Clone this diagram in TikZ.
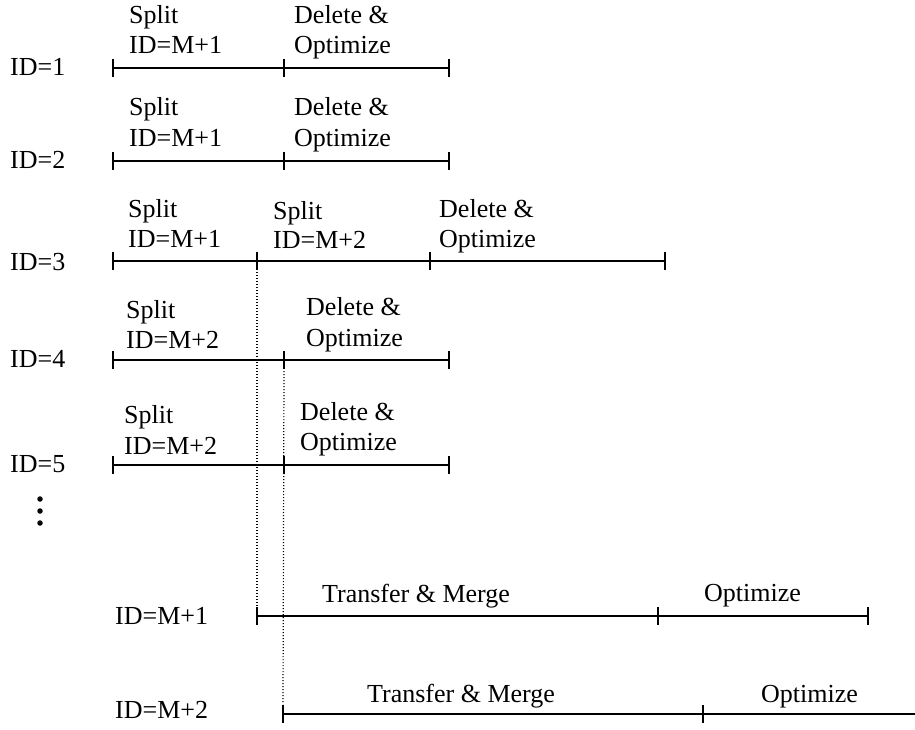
\documentclass[tikz,border=0pt]{standalone}
\usepackage{fontspec}
\setmainfont{Liberation Serif}
\begin{document}
\begin{tikzpicture}[x=1pt,y=-1pt,
  lbl/.style={anchor=base west, inner sep=0pt, font=\fontsize{26}{30}\selectfont},
  bar/.style={line width=2.2pt},
  tickmark/.style={line width=1.7pt},
  guide/.style={line width=1.2pt, dash pattern=on 1.2pt off 1.8pt},
  dotmark/.style={circle, fill=black, inner sep=0pt, minimum size=5.5pt}
]
\useasboundingbox (0,0) rectangle (915,729);

% a vertical tick mark on a time line
\newcommand\barmark[3]{%
  \coordinate (#1) at (#2,#3);
  \draw[tickmark] ([yshift=9pt]#1) -- ([yshift=-9pt]#1);}

% ---- ID=1 ----
\node[lbl] (id1) at (10,75) {ID=1};
\barmark{r1a}{113}{68}\barmark{r1b}{284}{68}\barmark{r1c}{449}{68}
\draw[bar] (r1a) -- (r1b) -- (r1c);
\node[lbl] (r1s) at (129,23) {Split};
\node[lbl] (r1i) at (129,53) {ID=M+1};
\node[lbl] (r1d) at (294,23) {Delete \&};
\node[lbl] (r1o) at (294,53) {Optimize};

% ---- ID=2 ----
\node[lbl] (id2) at (10,168) {ID=2};
\barmark{r2a}{113}{161}\barmark{r2b}{284}{161}\barmark{r2c}{449}{161}
\draw[bar] (r2a) -- (r2b) -- (r2c);
\node[lbl] (r2s) at (129,115) {Split};
\node[lbl] (r2i) at (129,146) {ID=M+1};
\node[lbl] (r2d) at (294,115) {Delete \&};
\node[lbl] (r2o) at (294,146) {Optimize};

% ---- ID=3 ----
\node[lbl] (id3) at (10,270) {ID=3};
\barmark{r3a}{113}{261}\barmark{r3b}{257}{261}\barmark{r3c}{430}{261}\barmark{r3d}{665}{261}
\draw[bar] (r3a) -- (r3b) -- (r3c) -- (r3d);
\node[lbl] (r3s) at (128,217) {Split};
\node[lbl] (r3i) at (128,247) {ID=M+1};
\node[lbl] (r3t) at (273,219) {Split};
\node[lbl] (r3j) at (273,248) {ID=M+2};
\node[lbl] (r3d) at (439,217) {Delete \&};
\node[lbl] (r3o) at (439,247) {Optimize};

% ---- ID=4 ----
\node[lbl] (id4) at (10,367) {ID=4};
\barmark{r4a}{113}{360}\barmark{r4b}{284}{360}\barmark{r4c}{449}{360}
\draw[bar] (r4a) -- (r4b) -- (r4c);
\node[lbl] (r4s) at (126,318) {Split};
\node[lbl] (r4j) at (126,348) {ID=M+2};
\node[lbl] (r4d) at (306,315) {Delete \&};
\node[lbl] (r4o) at (306,346) {Optimize};

% ---- ID=5 ----
\node[lbl] (id5) at (10,472) {ID=5};
\barmark{r5a}{113}{465}\barmark{r5b}{284}{465}\barmark{r5c}{449}{465}
\draw[bar] (r5a) -- (r5b) -- (r5c);
\node[lbl] (r5s) at (124,423) {Split};
\node[lbl] (r5j) at (124,454) {ID=M+2};
\node[lbl] (r5d) at (300,420) {Delete \&};
\node[lbl] (r5o) at (300,450) {Optimize};

% ---- vertical ellipsis ----
\node[dotmark] (e1) at (40,499) {};
\node[dotmark] (e2) at (40,511) {};
\node[dotmark] (e3) at (40,523) {};

% ---- ID=M+1 ----
\node[lbl] (idm1) at (115,624) {ID=M+1};
\barmark{m1a}{257}{616}\barmark{m1b}{658}{616}\barmark{m1c}{868}{616}
\draw[bar] (m1a) -- (m1b) -- (m1c);
\node[lbl] (m1t) at (322,602) {Transfer \& Merge};
\node[lbl] (m1o) at (704,601) {Optimize};

% ---- ID=M+2 ----
\node[lbl] (idm2) at (115,718) {ID=M+2};
\barmark{m2a}{283}{714}\barmark{m2b}{703}{714}
\coordinate (m2end) at (915,714);
\draw[bar] (m2a) -- (m2b) -- (m2end);
\node[lbl] (m2t) at (367,702) {Transfer \& Merge};
\node[lbl] (m2o) at (761,702) {Optimize};

% ---- dotted hand-over guides ----
\draw[guide] ([yshift=-11pt]r3b) -- ([yshift=10pt]m1a);
\draw[guide] ([yshift=-11pt]r4b) -- ([yshift=10pt]m2a);
\end{tikzpicture}
\end{document}
